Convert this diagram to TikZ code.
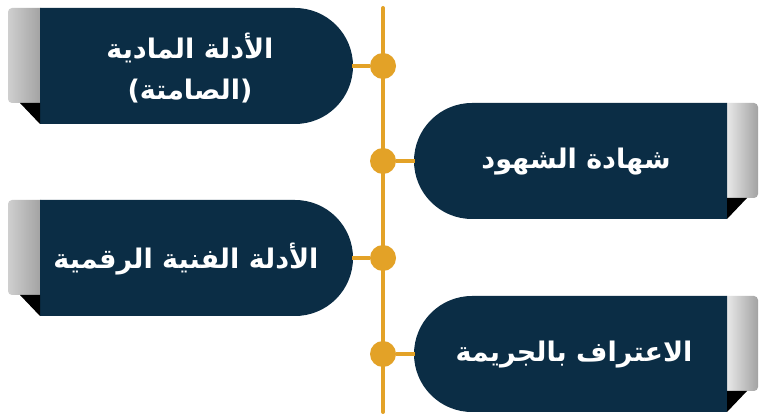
\documentclass[tikz,border=0pt]{standalone}
\usepackage{fontspec}
\newfontfamily\arabicfont[Script=Arabic]{DejaVu Sans}
\TeXXeTstate=1
\definecolor{navy}{HTML}{0B2D45}
\definecolor{gold}{HTML}{E3A227}
\definecolor{tabA}{HTML}{CFCFCF}
\definecolor{tabB}{HTML}{EAEAEA}
\definecolor{tabC}{HTML}{A2A2A2}
\newcommand\leftshape[1]{%
  \shade[left color=tabA, middle color=tabB, right color=tabC]
    (41,#1+58) [rounded corners=4pt] -- (8,#1+58) -- (8,#1-37) [sharp corners] -- (41,#1-37) -- cycle;
  \fill[navy] (40,#1+58) -- (295,#1+58) arc[start angle=90,end angle=-90,radius=58] -- (40,#1-58) -- cycle;
  \fill[black] (20,#1-37) -- (40,#1-37) -- (40,#1-58) -- cycle;
}
\newcommand\rightshape[1]{%
  \shade[left color=tabB, right color=tabC]
    (726,#1+58) [rounded corners=4pt] -- (758,#1+58) -- (758,#1-37) [sharp corners] -- (726,#1-37) -- cycle;
  \fill[navy] (727,#1+58) -- (472,#1+58) arc[start angle=90,end angle=270,radius=58] -- (727,#1-58) -- cycle;
  \fill[black] (727,#1-37) -- (747,#1-37) -- (727,#1-58) -- cycle;
}
\begin{document}
\begin{tikzpicture}[x=1pt,y=1pt,
  spine/.style={gold, line width=4pt, line cap=round},
  conn/.style={gold, line width=4pt},
  dot/.style={circle, fill=gold, minimum size=26pt, inner sep=0pt},
  lbl/.style={text=white, inner sep=0pt, align=center,
    font=\arabicfont\bfseries\fontsize{27}{41}\selectfont}]
\fill[white] (0,0) rectangle (768,420);
\useasboundingbox (0,0) rectangle (768,420);
% spine
\coordinate (top) at (383,412);
\coordinate (bot) at (383,8);
\draw[spine] (top) -- (bot);
% boxes
\leftshape{354}
\rightshape{259}
\leftshape{162}
\rightshape{66}
% labels
\node[lbl] (t1) at (190,352) {\beginR الأدلة المادية\endR\\\beginR (الصامتة)\endR};
\node[lbl] (t2) at (576,258) {\beginR شهادة الشهود\endR};
\node[lbl] (t3) at (186,161) {\beginR الأدلة الفنية الرقمية\endR};
\node[lbl] (t4) at (574,65) {\beginR الاعتراف بالجريمة\endR};
% box ends
\coordinate (e1) at (352,354);
\coordinate (e2) at (415,259);
\coordinate (e3) at (352,162);
\coordinate (e4) at (415,66);
% dots
\node[dot] (d1) at (383,354) {};
\node[dot] (d2) at (383,259) {};
\node[dot] (d3) at (383,162) {};
\node[dot] (d4) at (383,66) {};
\draw[conn] (e1) -- (d1);
\draw[conn] (d2) -- (e2);
\draw[conn] (e3) -- (d3);
\draw[conn] (d4) -- (e4);
\end{tikzpicture}
\end{document}
